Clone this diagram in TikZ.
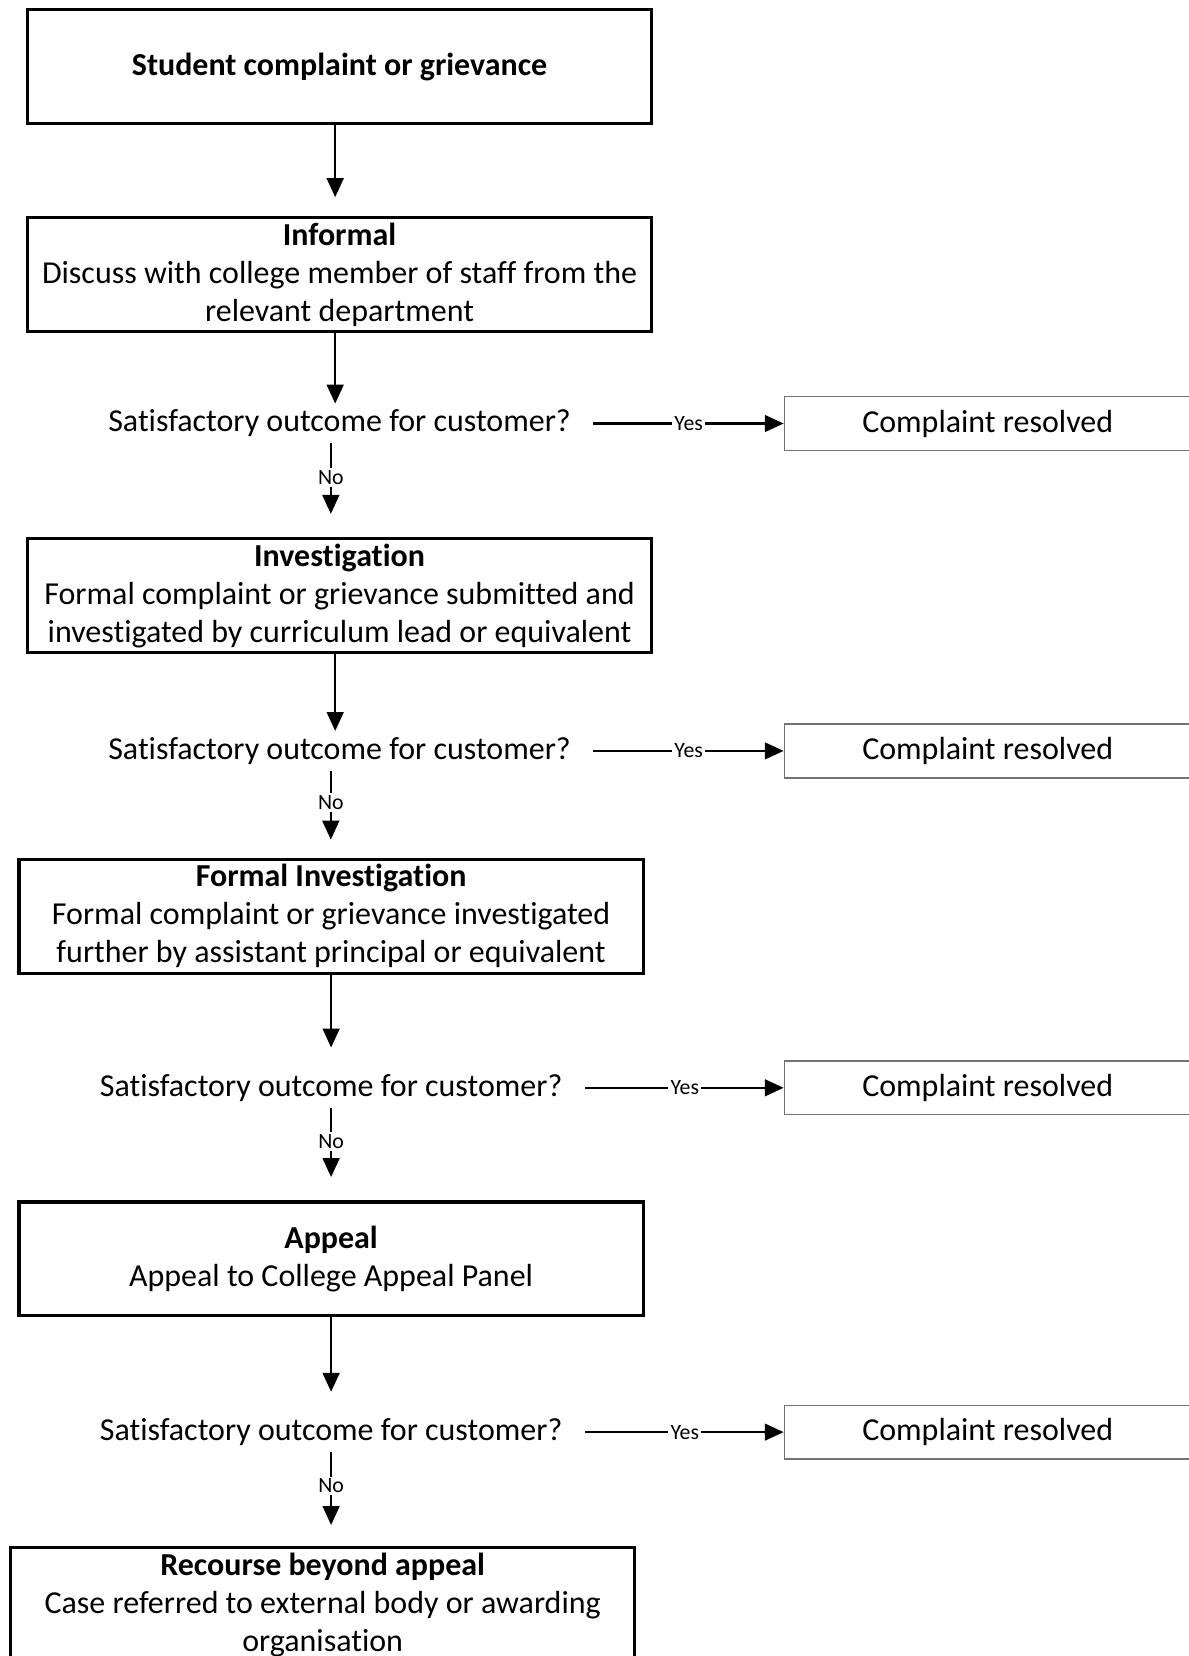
\documentclass[tikz,border=0pt]{standalone}
\usepackage{fontspec}
\setmainfont{Carlito}[Ligatures=CommonOff]
\usetikzlibrary{arrows.meta}

\begin{document}
\begin{tikzpicture}[x=0.3633pt,y=-0.3633pt,
    stage/.style={draw, line width=1.1pt, minimum width=214.7pt, minimum height=39.2pt, inner ysep=1pt, align=center, font=\fontsize{11}{13.1}\selectfont},
    query/.style={inner sep=2pt, font=\fontsize{11}{13.1}\selectfont},
    resolved/.style={draw=black!55, line width=0.5pt, minimum width=139.9pt, minimum height=18.5pt, anchor=west, font=\fontsize{11}{13.1}\selectfont},
    flow/.style={line width=0.7pt, -{Triangle[length=6.5pt,width=5.8pt]}},
    branch/.style={fill=white, inner sep=0.8pt, font=\fontsize{7.5}{9}\selectfont},
    nolabel/.style={branch, pos=0.36},
    yeslabel/.style={branch, pos=0.54}]

\useasboundingbox (0,0) rectangle (1125,1568);

% stages
\node[stage] (start) at (321.5,63) {\textbf{Student complaint or grievance}};
\node[stage] (informal) at (321.5,260) {\textbf{Informal}\\Discuss with college member of staff from the\\relevant department};
\node[stage] (investigation) at (321.5,564) {\textbf{Investigation}\\Formal complaint or grievance submitted and\\investigated by curriculum lead or equivalent};
\node[stage] (formal) at (313.5,867.5) {\textbf{Formal Investigation}\\Formal complaint or grievance investigated\\further by assistant principal or equivalent};
\node[stage] (appeal) at (313.5,1192) {\textbf{Appeal}\\Appeal to College Appeal Panel};
\node[stage, anchor=north] (beyond) at (305.5,1464) {\textbf{Recourse beyond appeal}\\Case referred to external body or awarding\\organisation};

% questions
\node[query] (q1) at (321.5,401) {Satisfactory outcome for customer?};
\node[query] (q2) at (321.5,711) {Satisfactory outcome for customer?};
\node[query] (q3) at (313.5,1030) {Satisfactory outcome for customer?};
\node[query] (q4) at (313.5,1356) {Satisfactory outcome for customer?};

\node[resolved] (r1) at (742,401) {Complaint resolved};
\node[resolved] (r2) at (742,711) {Complaint resolved};
\node[resolved] (r3) at (742,1030) {Complaint resolved};
\node[resolved] (r4) at (742,1356) {Complaint resolved};

% down
\draw[flow, shorten >=6.5pt] ([xshift=-1.5pt]start.south) -- ([xshift=-1.5pt]informal.north);
\draw[flow] ([xshift=-1.5pt]informal.south) -- ([xshift=-1.5pt]q1.north);
\draw[flow] ([xshift=-1.5pt]investigation.south) -- ([xshift=-1.5pt]q2.north);
\draw[flow, shorten >=7pt] (formal) -- (q3);
\draw[flow, shorten >=7pt] (appeal) -- (q4);

% no
\draw[flow, shorten >=8pt] ([xshift=-3pt]q1.south) -- node[nolabel]{No} ([xshift=-3pt]investigation.north);
\draw[flow, shorten >=6.2pt] ([xshift=-3pt]q2.south) -- node[nolabel]{No} ([xshift=-3pt]q2.south |- formal.north);
\draw[flow, shorten >=8pt] (q3) -- node[nolabel]{No} (appeal);
\draw[flow, shorten >=7.3pt] (q4.south) -- node[nolabel]{No} (q4.south |- beyond.north);

% yes
\draw[flow, shorten <=5.5pt] (q1) -- node[yeslabel]{Yes} (r1);
\draw[flow, shorten <=5.5pt] (q2) -- node[yeslabel]{Yes} (r2);
\draw[flow, shorten <=5.5pt] (q3) -- node[yeslabel]{Yes} (r3);
\draw[flow, shorten <=5.5pt] (q4) -- node[yeslabel]{Yes} (r4);

\end{tikzpicture}
\end{document}
